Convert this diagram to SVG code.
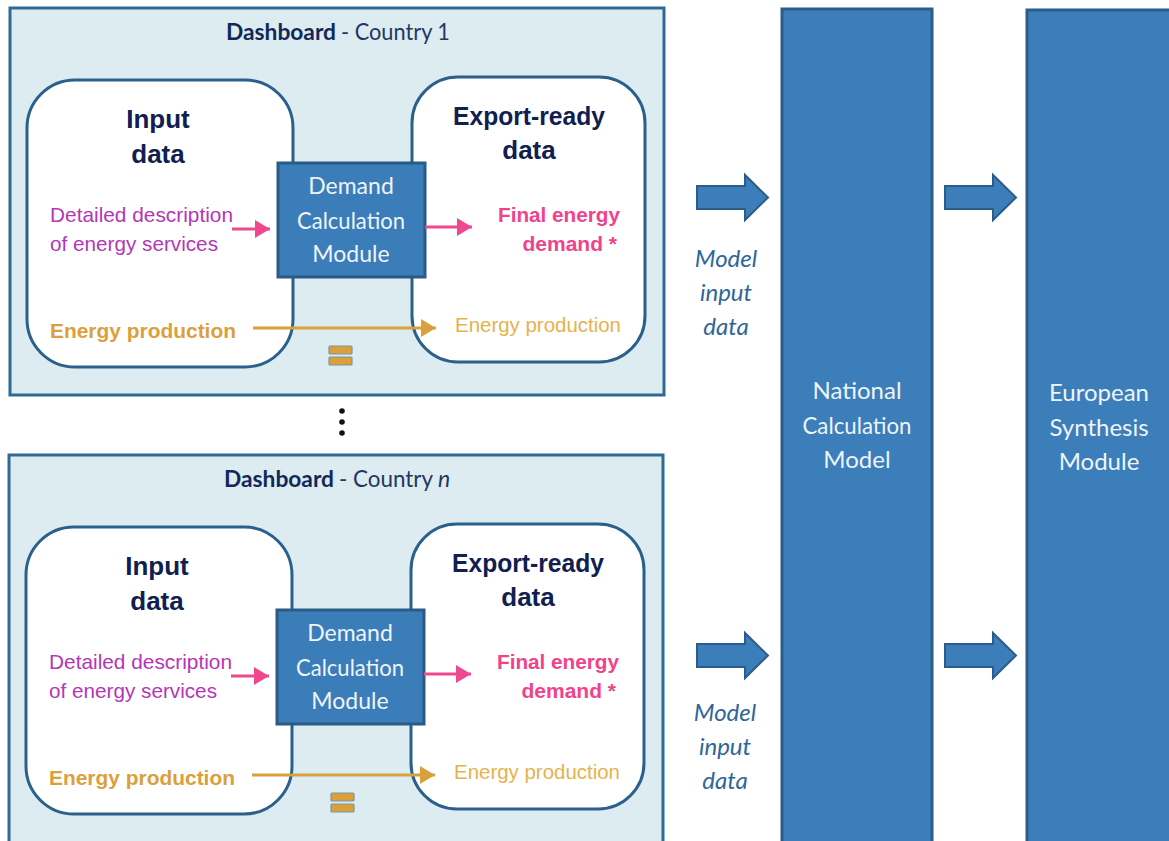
<svg xmlns="http://www.w3.org/2000/svg" width="1169" height="841" viewBox="0 0 1169 841">
<defs>
<style>
.dash{fill:#ddecf0;stroke:#2f6a96;stroke-width:3}
.box{fill:#ffffff;stroke:#2b5f8c;stroke-width:3}
.mod{fill:#3b7db9;stroke:#2a5a85;stroke-width:3}
.col{fill:#3b7eba;stroke:#2c5d8a;stroke-width:3}
.barr{fill:#3b7eba;stroke:#2c5d8a;stroke-width:2}
.eq{fill:#d9a03b;stroke:#7a94aa;stroke-width:1.2}
.title{font-family:Lato,"Liberation Sans",sans-serif;font-size:23px;fill:#1f3864}
.tb{font-family:Lato,"Liberation Sans",sans-serif;font-size:23px;font-weight:bold;fill:#13285a}
.hd{font-family:"Liberation Sans",Arial,sans-serif;font-size:26px;font-weight:bold;fill:#0f2050;text-anchor:middle}
.desc{font-family:"Liberation Sans",Arial,sans-serif;font-size:21px;fill:#b536b8}
.fed{font-family:"Liberation Sans",Arial,sans-serif;font-size:21px;font-weight:bold;fill:#f0438c;text-anchor:end}
.ep1{font-family:"Liberation Sans",Arial,sans-serif;font-size:21px;font-weight:bold;fill:#dba03c}
.ep2{font-family:"Liberation Sans",Arial,sans-serif;font-size:21px;fill:#e6b24c}
.mt{font-family:Lato,"Liberation Sans",sans-serif;font-size:23px;fill:#eef4fa;text-anchor:middle}
.ct{font-family:Lato,"Liberation Sans",sans-serif;font-size:24px;fill:#eef4fa;text-anchor:middle}
.mi{font-family:Lato,"Liberation Sans",sans-serif;font-size:24px;font-style:italic;fill:#2f6699;text-anchor:middle}
.pk{stroke:#f0488f;stroke-width:3;fill:none}
.gd{stroke:#d9a03b;stroke-width:3;fill:none}
</style>
<marker id="mp" markerWidth="6" markerHeight="6" refX="5" refY="3" orient="auto" markerUnits="strokeWidth"><path d="M0,0 L5,3 L0,6 Z" fill="#f0488f"/></marker>
<marker id="mg" markerWidth="6" markerHeight="6" refX="5" refY="3" orient="auto" markerUnits="strokeWidth"><path d="M0,0 L5,3 L0,6 Z" fill="#d9a03b"/></marker>
</defs>
<rect width="1169" height="841" fill="#ffffff"/>

<g id="dashboard1">
<rect class="dash" x="10" y="8" width="654" height="387"/>
<text class="tb" x="226" y="40" textLength="110" lengthAdjust="spacingAndGlyphs">Dashboard</text>
<text class="title" x="341" y="40" textLength="109" lengthAdjust="spacingAndGlyphs">- Country 1</text>
</g>
<g id="input1">
<rect class="box" x="27" y="80" width="266" height="287" rx="48"/>
<text class="hd" x="158" y="128">Input</text>
<text class="hd" x="158" y="163">data</text>
<text class="desc" x="50" y="222" textLength="183" lengthAdjust="spacingAndGlyphs">Detailed description</text>
<text class="desc" x="50" y="251" textLength="168" lengthAdjust="spacingAndGlyphs">of energy services</text>
<text class="ep1" x="50" y="338" textLength="186" lengthAdjust="spacingAndGlyphs">Energy production</text>
</g>
<g id="export1">
<rect class="box" x="412" y="77" width="233" height="285" rx="46"/>
<text class="hd" x="529" y="125" textLength="152" lengthAdjust="spacingAndGlyphs">Export-ready</text>
<text class="hd" x="529" y="159">data</text>
<text class="fed" x="620" y="222" textLength="122" lengthAdjust="spacingAndGlyphs">Final energy</text>
<text class="fed" x="617" y="251">demand *</text>
<text class="ep2" x="455" y="332" textLength="166" lengthAdjust="spacingAndGlyphs">Energy production</text>
</g>
<g id="module1">
<rect class="mod" x="278" y="163" width="147" height="114"/>
<text class="mt" x="351" y="194">Demand</text>
<text class="mt" x="351" y="229" textLength="108" lengthAdjust="spacingAndGlyphs">Calculation</text>
<text class="mt" x="351" y="262">Module</text>
</g>
<g id="equals1">
<rect class="eq" x="329" y="346" width="23" height="8" rx="1"/>
<rect class="eq" x="329" y="357" width="23" height="8" rx="1"/>
</g>

<g id="dots">
<circle cx="342" cy="411" r="2.8" fill="#111"/>
<circle cx="342" cy="422" r="2.8" fill="#111"/>
<circle cx="342" cy="433" r="2.8" fill="#111"/>
</g>

<g id="dashboard2">
<rect class="dash" x="9" y="455" width="654" height="395"/>
<text class="tb" x="224" y="487" textLength="110" lengthAdjust="spacingAndGlyphs">Dashboard</text>
<text class="title" x="339" y="487" textLength="94" lengthAdjust="spacingAndGlyphs">- Country</text>
<text class="title" x="438" y="487" font-style="italic">n</text>
</g>
<g id="input2">
<rect class="box" x="26" y="527" width="266" height="287" rx="48"/>
<text class="hd" x="157" y="575">Input</text>
<text class="hd" x="157" y="610">data</text>
<text class="desc" x="49" y="669" textLength="183" lengthAdjust="spacingAndGlyphs">Detailed description</text>
<text class="desc" x="49" y="698" textLength="168" lengthAdjust="spacingAndGlyphs">of energy services</text>
<text class="ep1" x="49" y="785" textLength="186" lengthAdjust="spacingAndGlyphs">Energy production</text>
</g>
<g id="export2">
<rect class="box" x="411" y="524" width="233" height="285" rx="46"/>
<text class="hd" x="528" y="572" textLength="152" lengthAdjust="spacingAndGlyphs">Export-ready</text>
<text class="hd" x="528" y="606">data</text>
<text class="fed" x="619" y="669" textLength="122" lengthAdjust="spacingAndGlyphs">Final energy</text>
<text class="fed" x="616" y="698">demand *</text>
<text class="ep2" x="454" y="779" textLength="166" lengthAdjust="spacingAndGlyphs">Energy production</text>
</g>
<g id="module2">
<rect class="mod" x="277" y="610" width="147" height="114"/>
<text class="mt" x="350" y="641">Demand</text>
<text class="mt" x="350" y="676" textLength="108" lengthAdjust="spacingAndGlyphs">Calculation</text>
<text class="mt" x="350" y="709">Module</text>
</g>
<g id="equals2">
<rect class="eq" x="331" y="793" width="23" height="8" rx="1"/>
<rect class="eq" x="331" y="804" width="23" height="8" rx="1"/>
</g>

<g id="national">
<rect class="col" x="782" y="9" width="150" height="845"/>
<text class="ct" x="857" y="399">National</text>
<text class="ct" x="857" y="434" textLength="109" lengthAdjust="spacingAndGlyphs">Calculation</text>
<text class="ct" x="857" y="468">Model</text>
</g>
<g id="european">
<rect class="col" x="1027" y="10" width="160" height="845"/>
<text class="ct" x="1099" y="401">European</text>
<text class="ct" x="1099" y="436">Synthesis</text>
<text class="ct" x="1099" y="470">Module</text>
</g>

<g id="labels">
<text class="mi" x="726" y="267">Model</text>
<text class="mi" x="726" y="301">input</text>
<text class="mi" x="726" y="335">data</text>
<text class="mi" x="725" y="721">Model</text>
<text class="mi" x="725" y="755">input</text>
<text class="mi" x="725" y="789">data</text>
</g>

<g id="connectors">
<line class="pk" x1="232" y1="229" x2="270" y2="229" marker-end="url(#mp)"/>
<line class="pk" x1="425" y1="227" x2="472" y2="227" marker-end="url(#mp)"/>
<line class="gd" x1="253" y1="328" x2="436" y2="328" marker-end="url(#mg)"/>
<line class="pk" x1="231" y1="676" x2="269" y2="676" marker-end="url(#mp)"/>
<line class="pk" x1="424" y1="674" x2="471" y2="674" marker-end="url(#mp)"/>
<line class="gd" x1="252" y1="775" x2="435" y2="775" marker-end="url(#mg)"/>
<path class="barr" d="M697,186 L745,186 L745,175 L768,197.5 L745,220 L745,209 L697,209 Z"/>
<path class="barr" d="M945,186 L993,186 L993,175 L1016,197.5 L993,220 L993,209 L945,209 Z"/>
<path class="barr" d="M697,644 L745,644 L745,633 L768,655.5 L745,678 L745,667 L697,667 Z"/>
<path class="barr" d="M945,644 L993,644 L993,633 L1016,655.5 L993,678 L993,667 L945,667 Z"/>
</g>
</svg>
